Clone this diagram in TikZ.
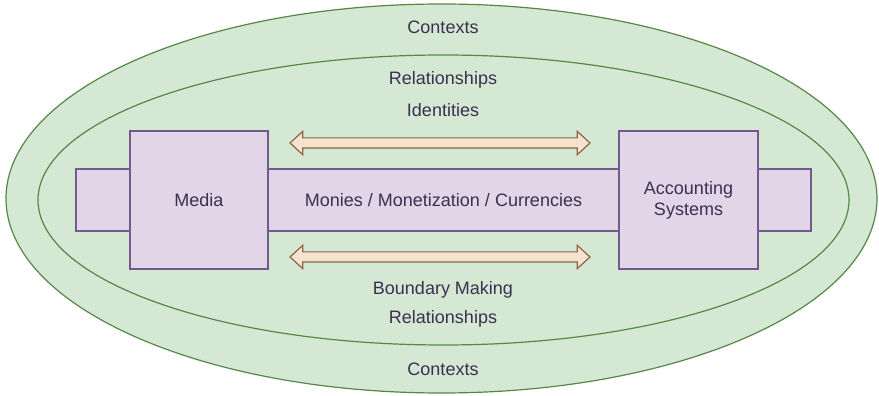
\documentclass[tikz,border=0pt]{standalone}
\usepackage{fontspec}
\setmainfont{Liberation Sans}
\usepackage{xcolor}
\usepackage{tikz}
\usetikzlibrary{positioning, shapes, shapes.geometric, shapes.arrows}

\definecolor{ctxfill}{HTML}{D5E8D4}
\definecolor{ctxline}{HTML}{568746}
\definecolor{boxfill}{HTML}{E1D5E7}
\definecolor{boxline}{HTML}{725A8C}
\definecolor{arrfill}{HTML}{F5E2CF}
\definecolor{arrline}{HTML}{886846}
\definecolor{txt}{HTML}{3B3050}

\tikzset{
  ring/.style={ellipse, draw=ctxline, fill=ctxfill, line width=1.2pt, inner sep=0pt, outer sep=0pt},
  pbox/.style={draw=boxline, fill=boxfill, line width=1.2pt, inner sep=0pt, text=txt, align=center},
  flow/.style={double arrow, draw=arrline, fill=arrfill, line width=1.2pt, inner sep=0pt,
    minimum height=300pt, double arrow head extend=6.5pt, double arrow tip angle=85},
  lbl/.style={text=txt}
}

\begin{document}
\fontsize{18}{21}\selectfont
\begin{tikzpicture}[x=1pt, y=1pt]
        \useasboundingbox (0,0) rectangle (879,396);

        % Nested contexts
        \node[ring, minimum width=871pt, minimum height=389pt] (ctx) at (441.5,197.5) {};
        \node[ring, minimum width=811pt, minimum height=290pt] (rel) at (443.5,196) {};

        % Middle bar and the two blocks on it
        \node[pbox, minimum width=735pt, minimum height=62pt] (bar) at (443.5,196) {Monies / Monetization / Currencies};
        \node[pbox, minimum width=138pt, minimum height=138pt] (media) at (199,196) {Media};
        \node[pbox, minimum width=139pt, minimum height=138pt] (acct) at (688.5,196) {Accounting\\Systems};

        % Two-way flows
        \node[flow] (flowtop) at (440,253) {\rule{0pt}{9pt}};
        \node[flow] (flowbot) at (440,139) {\rule{0pt}{9pt}};

        % Labels
        \foreach \y/\txt [count=\i] in {369/Contexts, 316/Relationships, 286/Identities,
                                        106/Boundary Making, 77/Relationships, 27/Contexts} {
          \node[lbl] (lbl\i) at (443,\y) {\txt};
        }
      \end{tikzpicture}
\end{document}
